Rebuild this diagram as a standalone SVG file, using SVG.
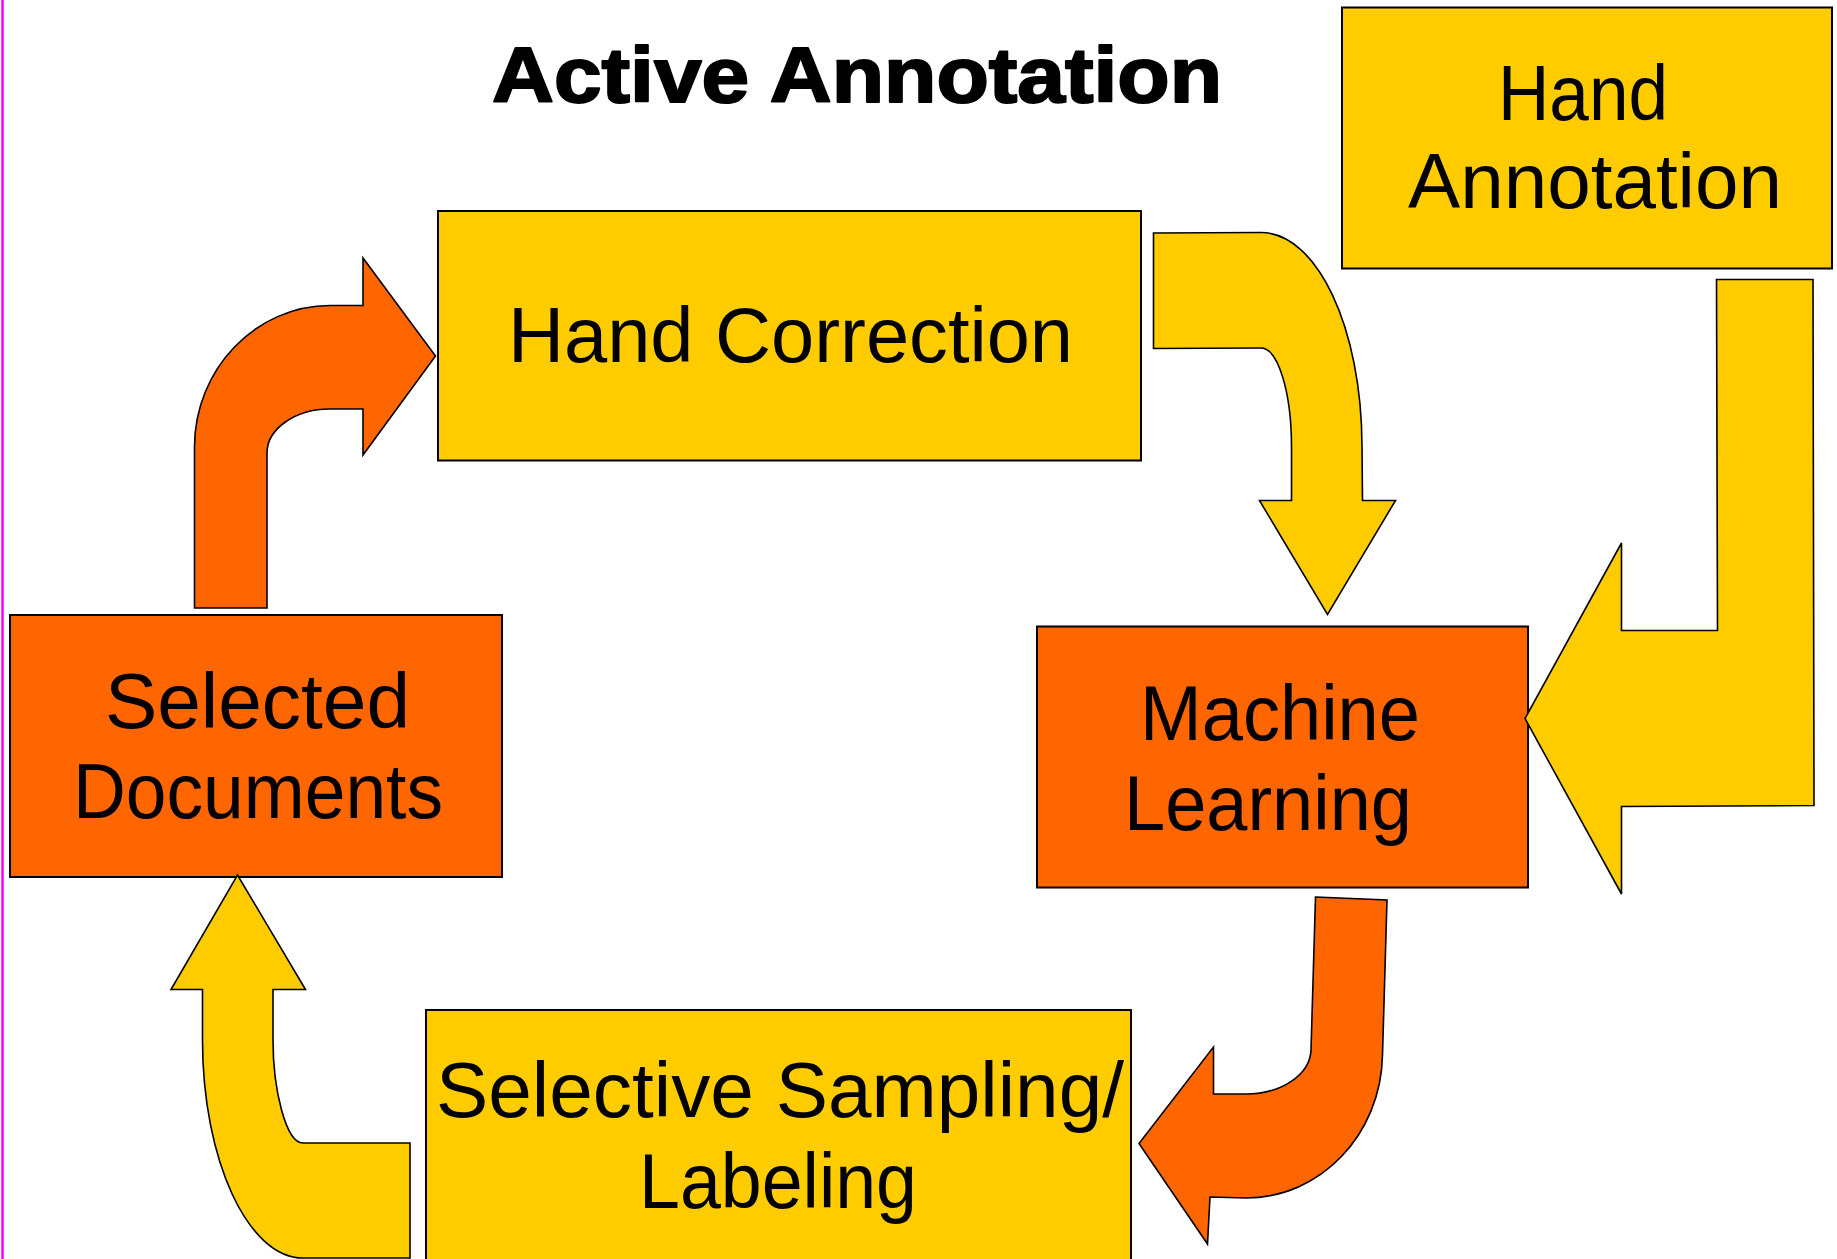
<svg xmlns="http://www.w3.org/2000/svg" width="1837" height="1259" viewBox="0 0 1837 1259">
  <style>
    .yel { fill: #FFCC00; stroke: #000; stroke-width: 2; }
    .org { fill: #FF6600; stroke: #000; stroke-width: 2; }
    .arr-y { fill: #FFCC00; stroke: #000; stroke-width: 1.6; stroke-linejoin: miter; }
    .arr-o { fill: #FF6600; stroke: #000; stroke-width: 1.6; stroke-linejoin: miter; }
    .lbl { font-family: "Liberation Sans", Arial, sans-serif; font-size: 78px; fill: #000; }
    .title { font-family: "Liberation Sans", Arial, sans-serif; font-size: 77px; font-weight: bold; fill: #000; stroke: #000; stroke-width: 2; stroke-linejoin: round; }
  </style>
  <rect x="0" y="0" width="1837" height="1259" fill="#FFFFFF"/>
  <line x1="2.5" y1="0" x2="2.5" y2="1259" stroke="#FF00FF" stroke-width="2.5"/>

  <text class="title" x="492" y="102" textLength="730" lengthAdjust="spacingAndGlyphs">Active Annotation</text>

  <g id="hand-annotation">
    <rect class="yel" x="1342" y="7.5" width="490" height="261"/>
    <text class="lbl" x="1498" y="120" textLength="170" lengthAdjust="spacingAndGlyphs">Hand</text>
    <text class="lbl" x="1408" y="208" textLength="374" lengthAdjust="spacingAndGlyphs">Annotation</text>
  </g>

  <g id="hand-correction">
    <rect class="yel" x="438" y="211" width="703" height="249.5"/>
    <text class="lbl" x="508" y="362" textLength="565" lengthAdjust="spacingAndGlyphs">Hand Correction</text>
  </g>

  <g id="selected-documents">
    <rect class="org" x="10" y="615" width="492" height="262"/>
    <text class="lbl" x="105" y="728" textLength="305" lengthAdjust="spacingAndGlyphs">Selected</text>
    <text class="lbl" x="73" y="818" textLength="370" lengthAdjust="spacingAndGlyphs">Documents</text>
  </g>

  <g id="machine-learning">
    <rect class="org" x="1037" y="626.5" width="491" height="261"/>
    <text class="lbl" x="1140" y="740" textLength="280" lengthAdjust="spacingAndGlyphs">Machine</text>
    <text class="lbl" x="1124" y="830" textLength="288" lengthAdjust="spacingAndGlyphs">Learning</text>
  </g>

  <g id="selective-sampling">
    <rect class="yel" x="426" y="1010" width="705" height="270"/>
    <text class="lbl" x="436" y="1117" textLength="688" lengthAdjust="spacingAndGlyphs">Selective Sampling/</text>
    <text class="lbl" x="639" y="1208" textLength="278" lengthAdjust="spacingAndGlyphs">Labeling</text>
  </g>

  <g id="connectors">
    <path id="arrow-docs-to-correction" class="arr-o" d="M 194.5 608 L 194.5 447 C 194.5 369 256 305.5 330 305.5 L 363 305.5 L 363 258 L 435.5 356 L 363 455 L 363 409 L 330 409 C 295 409 267 429 267 453 L 267 608 Z"/>
    <path id="arrow-correction-to-ml" class="arr-y" d="M 1153.5 233 L 1261 232.5 C 1317 232.5 1362 328 1362 447 L 1362.5 500.5 L 1395.5 500.5 L 1327.5 614.5 L 1259.5 500.5 L 1291.5 500.5 L 1291.5 447 C 1291.5 392 1278 348 1261 348 L 1153.5 348.5 Z"/>
    <path id="arrow-annotation-to-ml" class="arr-y" d="M 1716.5 279.5 L 1813 279.5 L 1814 805.5 L 1621.5 806.5 L 1621.5 894 L 1525 718.5 L 1621.5 543 L 1621.5 630.5 L 1717.5 630.5 Z"/>
    <path id="arrow-ml-to-sampling" class="arr-o" d="M 1315.5 897 L 1387 900 L 1382.5 1055 C 1381 1135 1320 1198 1246 1198 L 1210 1197 L 1207.5 1244 L 1139 1143.5 L 1213.5 1047 L 1213.5 1094 L 1246 1094 C 1281 1094 1310 1075 1311 1050 Z"/>
    <path id="arrow-sampling-to-docs" class="arr-y" d="M 410 1143 L 303 1143 C 286 1143 273 1090 273 1040 L 273 989.5 L 305.5 989.5 L 237.5 875 L 171 989.5 L 202.5 989.5 L 202.5 1040 C 202.5 1160 248 1258 303 1258 L 410 1258 Z"/>
  </g>
</svg>
